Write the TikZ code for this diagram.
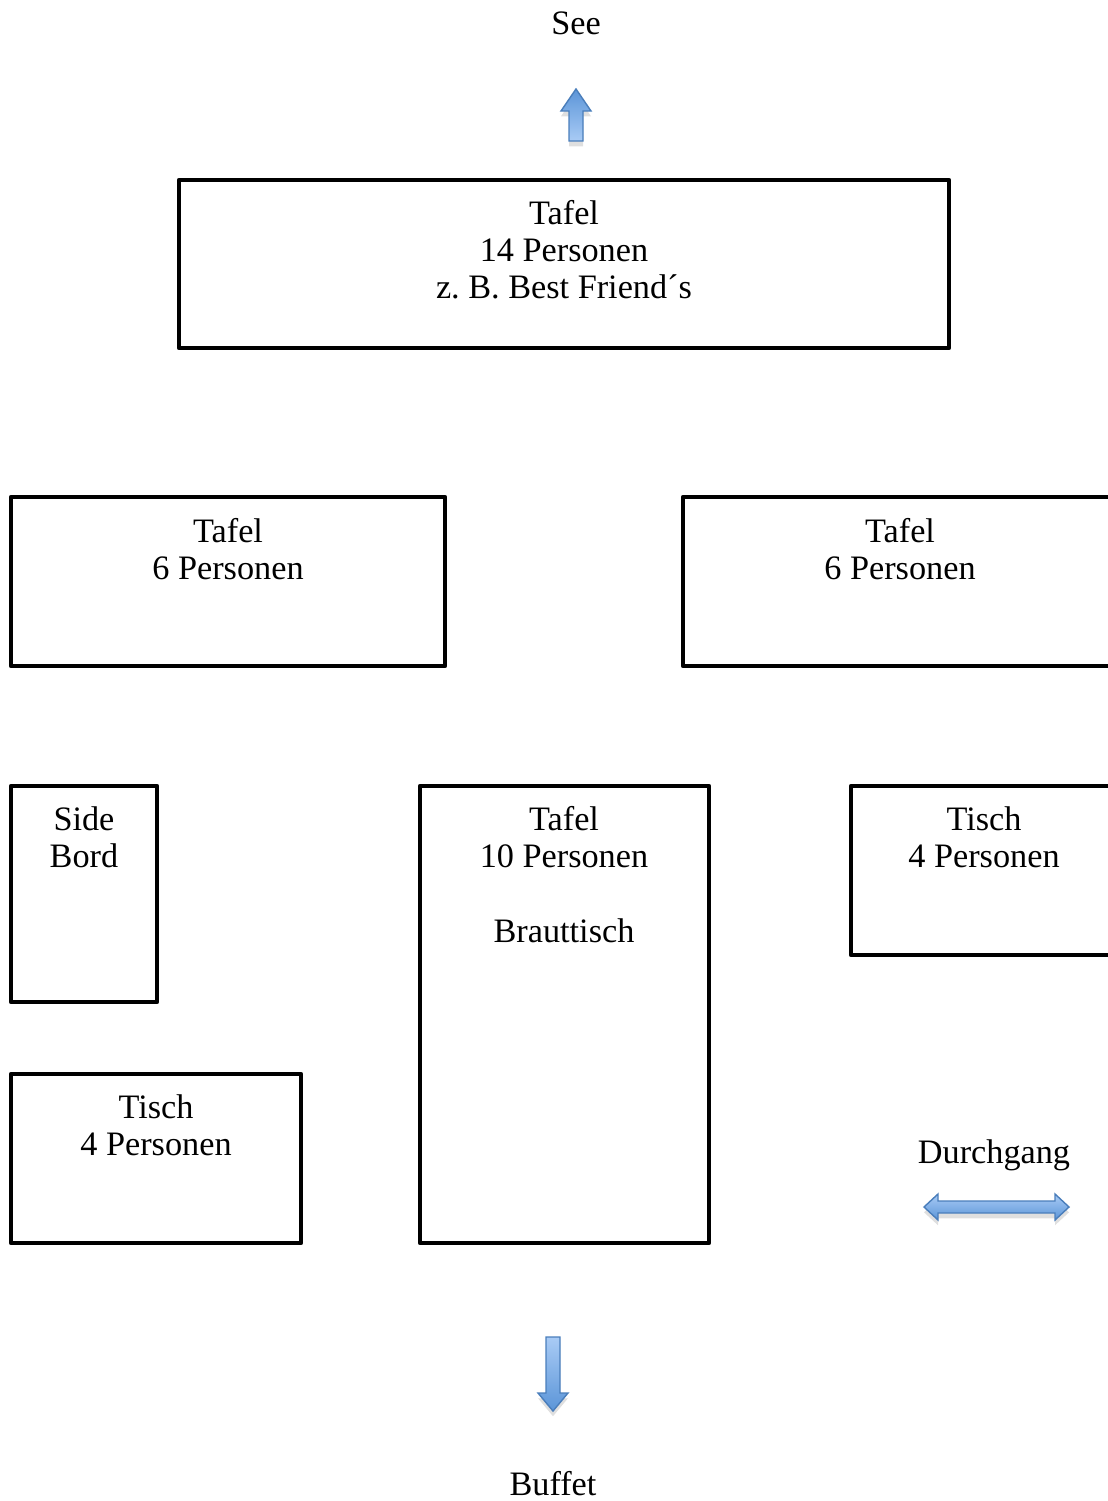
\documentclass[tikz,border=0pt]{standalone}
\usepackage{fontspec}
\setmainfont{Liberation Serif}
\usetikzlibrary{positioning,shadows}
\frenchspacing

\definecolor{arrowlight}{HTML}{A9CBF5}
\definecolor{arrowdark}{HTML}{5B95D8}
\definecolor{arrowedge}{HTML}{4A7EBB}

\begin{document}
\begin{tikzpicture}[x=0.02cm, y=-0.02cm,
	tablebox/.style={draw=black, line width=2.6pt, line join=round},
	tabletext/.style={anchor=north, inner sep=0pt, align=center, font=\fontsize{19.5}{21}\selectfont},
	roomlabel/.style={anchor=base, inner sep=0pt, font=\fontsize{19.5}{21}\selectfont},
	bluearrow/.style={draw=arrowedge, line width=0.8pt,
		drop shadow={opacity=0.25, shadow xshift=0pt, shadow yshift=-3pt}}]
	\useasboundingbox (0,0) rectangle (1108,1501);
	\clip (0,0) rectangle (1108,1501);

	% See
	\node[roomlabel] (see) at (576,34) {See};
	\shade[bluearrow, top color=arrowdark, bottom color=arrowlight]
		(569,141) -- (569,111) -- (561,111) -- (576,89) -- (591,111) -- (583,111) -- (583,141) -- cycle;

	% Tafeln
	\draw[tablebox] (179,180) rectangle (949,348);
	\node[tabletext] (tafel14) at (564,200) {Tafel\\14 Personen\\z. B. Best Friend´s};

	\draw[tablebox] (11,497) rectangle (445,666);
	\node[tabletext] (tafelleft) at (228,518) {Tafel\\6 Personen};

	\draw[tablebox] (683,497) rectangle (1117,666);
	\node[tabletext] (tafelright) at (900,518) {Tafel\\6 Personen};

	\draw[tablebox] (11,786) rectangle (157,1002);
	\node[tabletext] (sidebord) at (84,806) {Side\\Bord};

	\draw[tablebox] (420,786) rectangle (709,1243);
	\node[tabletext] (brauttisch) at (564,806) {Tafel\\10 Personen\\[22pt]Brauttisch};

	\draw[tablebox] (851,786) rectangle (1117,955);
	\node[tabletext] (tischright) at (984,806) {Tisch\\4 Personen};

	\draw[tablebox] (11,1074) rectangle (301,1243);
	\node[tabletext] (tischleft) at (156,1094) {Tisch\\4 Personen};

	% Durchgang
	\node[roomlabel] (durchgang) at (994,1163) {Durchgang};
	\shade[bluearrow, top color=arrowlight, bottom color=arrowdark]
		(924,1207) -- (938,1194) -- (938,1201) -- (1055,1201) -- (1055,1194) -- (1069,1207)
		-- (1055,1220) -- (1055,1213) -- (938,1213) -- (938,1220) -- cycle;

	% Buffet
	\shade[bluearrow, top color=arrowlight, bottom color=arrowdark]
		(546,1337) -- (560,1337) -- (560,1393) -- (568,1393) -- (553,1411) -- (538,1393) -- (546,1393) -- cycle;
	\node[roomlabel] (buffet) at (553,1495) {Buffet};
\end{tikzpicture}
\end{document}
